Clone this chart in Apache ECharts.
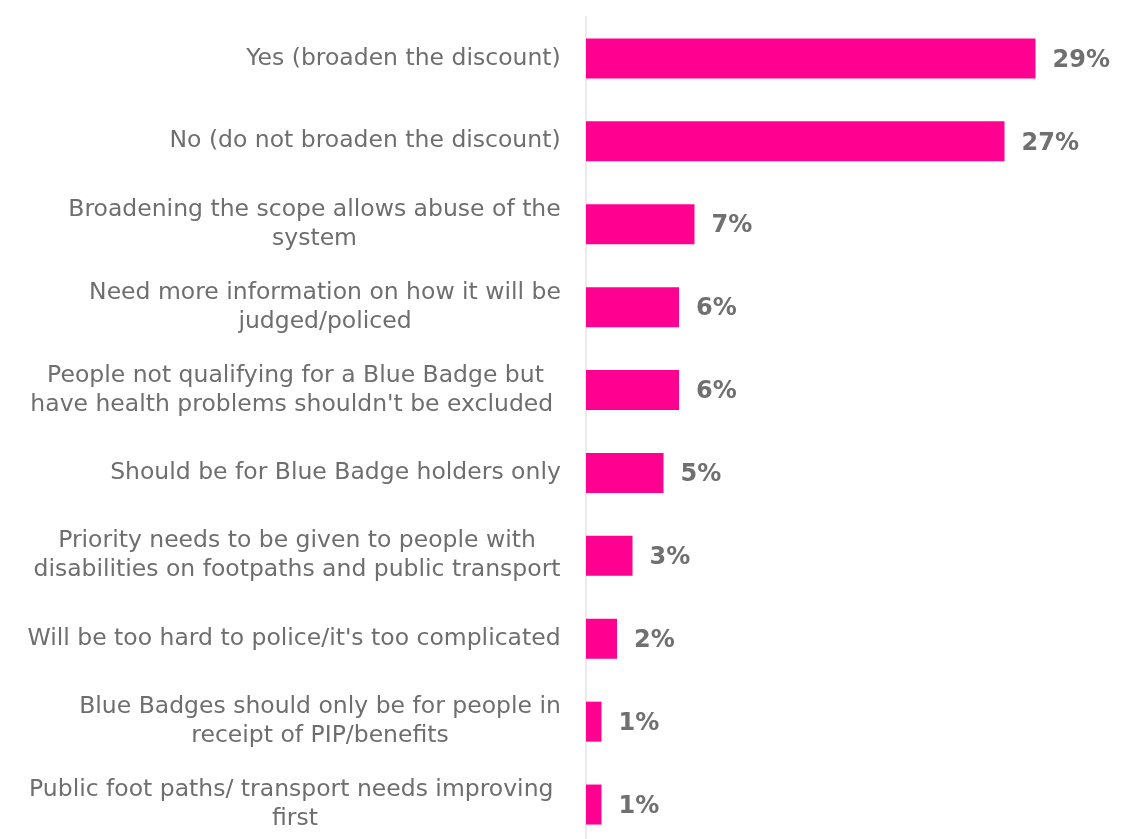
<!DOCTYPE html>
<html>
<head>
<meta charset="utf-8">
<script src="https://cdn.jsdelivr.net/npm/echarts@6/dist/echarts.min.js"></script>
<style>
  html, body { margin: 0; padding: 0; background: #ffffff; }
  #chart { width: 1123px; height: 839px; }
</style>
</head>
<body>
<div id="chart"></div>
<script>
// Responses, top to bottom
const categories = [
  "Yes (broaden the discount)",
  "No (do not broaden the discount)",
  "Broadening the scope allows abuse of the\nsystem",
  "Need more information on how it will be\njudged/policed",
  "People not qualifying for a Blue Badge but\nhave health problems shouldn't be excluded ",
  "Should be for Blue Badge holders only",
  "Priority needs to be given to people with\ndisabilities on footpaths and public transport",
  "Will be too hard to police/it's too complicated",
  "Blue Badges should only be for people in\nreceipt of PIP/benefits",
  "Public foot paths/ transport needs improving \nfirst"
];
// Share of respondents (%)
const shares = [29, 27, 7, 6, 6, 5, 3, 2, 1, 1];

const FONT = '"DejaVu Sans", Verdana, sans-serif';
const LABEL_SIZE = 23.5;

// Multi-line labels: lines centred within the block, block right-aligned to the axis
const ctx = document.createElement('canvas').getContext('2d');
ctx.font = LABEL_SIZE + 'px ' + FONT;
const rich = {};
categories.forEach((c, i) => {
  const w = Math.max(...c.split('\n').map(l => ctx.measureText(l).width));
  rich['r' + i] = {
    width: Math.ceil(w), align: 'center',
    fontFamily: FONT, fontSize: LABEL_SIZE, color: '#6e6e6e', lineHeight: 29
  };
});

const chart = echarts.init(document.getElementById('chart'), null, { renderer: 'canvas' });
chart.setOption({
  animation: false,
  grid: {
    left: 586, top: 17, width: 527, height: 829,
    containLabel: false, outerBoundsMode: 'none'
  },
  xAxis: {
    type: 'value', min: 0, max: 34,
    show: false
  },
  yAxis: {
    type: 'category',
    data: categories,
    inverse: true,
    axisLine: { show: true, lineStyle: { color: '#e3e3e3', width: 1.5 } },
    axisTick: { show: false },
    axisLabel: {
      margin: 25,
      align: 'right',
      interval: 0,
      formatter: (v, i) => v.split('\n').map(l => '{r' + i + '|' + l + '}').join('\n'),
      rich: rich
    }
  },
  series: [{
    type: 'bar',
    data: shares,
    barWidth: 40,
    itemStyle: { color: '#ff0090' },
    label: {
      show: true,
      position: 'right',
      distance: 17,
      offset: [0, 2],
      formatter: '{c}%',
      fontFamily: FONT,
      fontSize: 24,
      fontWeight: 'bold',
      color: '#707070'
    }
  }]
});
</script>
</body>
</html>
